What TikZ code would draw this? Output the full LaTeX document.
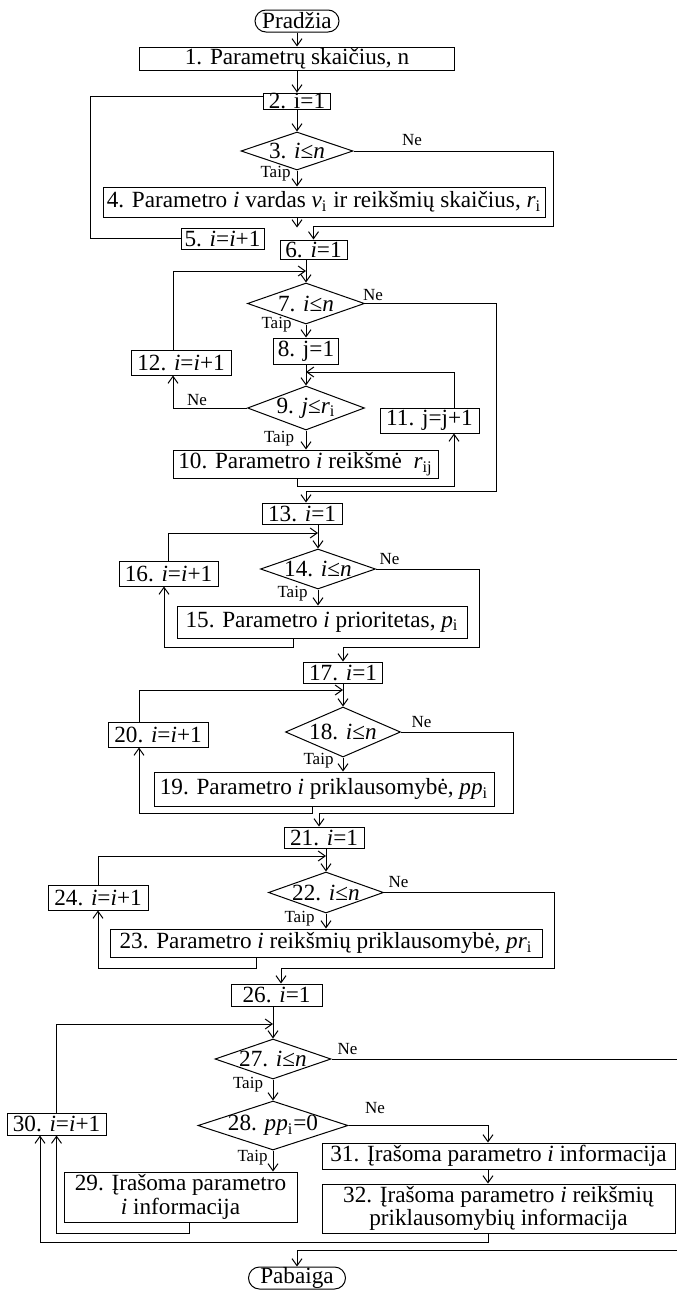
\documentclass[tikz,border=0pt]{standalone}
\usepackage{fontspec}
\setmainfont{Liberation Serif}
\usetikzlibrary{shapes.geometric,arrows.meta}

\tikzset{
  wh/.style 2 args={minimum width=#1*0.5pt, minimum height=#2*0.5pt},
  process/.style={draw, rectangle, inner sep=0pt, align=center},
  decision/.style={draw, diamond, inner sep=0pt},
  terminal/.style={draw, rectangle, rounded corners=5.5pt, inner sep=0pt},
  flow/.style={-{Straight Barb[length=3.5pt,width=5pt]}},
  lbl/.style={font=\fontsize{8.5}{9}\selectfont, inner sep=0pt}
}

\begin{document}
\begin{tikzpicture}[x=0.5pt, y=-0.5pt, line width=0.5pt,
                    font=\fontsize{11.6}{10}\selectfont]
  \useasboundingbox (0,0) rectangle (676,1290);

  % Parametru vardai ir reiksmiu skaicius
  \node[terminal, wh={84}{22}] (start) at (297,21) {Pradžia};
  \node[process, wh={315}{23}] (b1) at (297,58.5) {1. Parametrų skaičius, n};
  \node[process, wh={67}{16}] (b2) at (297,101) {2. i=1};
  \node[decision, wh={112}{38}, label=center:{3. \textit{i}≤\textit{n}}] (d3) at (297,151) {};
  \node[process, wh={442}{30}] (b4) at (324,202) {4. Parametro \textit{i} vardas \textit{v}\textsubscript{i} ir reikšmių skaičius, \textit{r}\textsubscript{i}};
  \node[process, wh={83}{21}] (b5) at (222.5,238.5) {5. \textit{i}=\textit{i}+1};
  \node[process, wh={67}{19}] (b6) at (313.5,249.5) {6. \textit{i}=1};
  \node[lbl] (ne3) at (412,140) {Ne};
  \node[lbl] (taip3) at (275.5,174) {Taip};

  \draw[flow] (start.south) -- (start.south |- b1.north);
  \draw[flow] (b1.south) -- (b2.north);
  \draw[flow] (b2.south) -- (d3.north);
  \draw[flow] (d3.south) -- (d3.south |- b4.north);
  \draw[flow] (d3.south |- b4.south) -- (d3.south |- b5.north);
  \draw (b5.west) -| (90,96) -- ([yshift=2.5pt]b2.west);
  \draw[flow] (d3.east) -| (553,226) -| (b6.north);

  % Parametru reiksmes
  \node[decision, wh={117}{41}, label=center:{7. \textit{i}≤\textit{n}}] (d7) at (306,303.5) {};
  \node[process, wh={65}{26}] (b8) at (306,351) {8. j=1};
  \node[decision, wh={117}{44}, label=center:{9. \textit{j}≤\textit{r}\textsubscript{i}}] (d9) at (306,408) {};
  \node[process, wh={265}{28}] (b10) at (305.5,464) {10. Parametro \textit{i} reikšmė\ \ \textit{r}\textsubscript{ij}};
  \node[process, wh={99}{25}] (b11) at (429.5,420.5) {11. j=j+1};
  \node[process, wh={100}{25}] (b12) at (181,362.5) {12. \textit{i}=\textit{i}+1};
  \node[lbl] (ne7) at (373,295) {Ne};
  \node[lbl] (taip7) at (276.5,324.5) {Taip};
  \node[lbl] (ne9) at (197,400) {Ne};
  \node[lbl] (taip9) at (279,438.5) {Taip};
  \coordinate (m7) at (306,271);
  \coordinate (m9) at (306,372);

  \draw[flow] (b6.south -| d7.north) -- (d7.north);
  \draw[flow] (d7.south) -- (b8.north);
  \draw[flow] (b8.south) -- (d9.north);
  \draw[flow] (d9.south) -- (d9.south |- b10.north);
  \draw[flow] ([xshift=-4.25pt]b10.south) -- ++(0,8) -| ([xshift=12.25pt]b11.south);
  \draw[flow] ([xshift=12.25pt]b11.north) |- (m9);
  \draw[flow] ([xshift=-4pt]b12.north) |- (m7);
  \draw[flow] (d9.west) -| ([xshift=-4pt]b12.south);

  % Prioritetai
  \node[process, wh={80}{21}] (b13) at (302,513.5) {13. \textit{i}=1};
  \node[decision, wh={115}{40}, label=center:{14. \textit{i}≤\textit{n}}] (d14) at (318,569) {};
  \node[process, wh={290}{32}] (b15) at (322,622) {15. Parametro \textit{i} prioritetas, \textit{p}\textsubscript{i}};
  \node[process, wh={99}{25}] (b16) at (168.5,573.5) {16. \textit{i}=\textit{i}+1};
  \node[lbl] (ne14) at (389.5,559) {Ne};
  \node[lbl] (taip14) at (292.5,594) {Taip};
  \coordinate (m14) at (318,533);

  \draw[flow] (d7.east) -| (496,491) -| (b13.north -| d7.south);
  \draw[flow] (b13.south -| d14.north) -- (d14.north);
  \draw[flow] (b16.north) |- (m14);
  \draw[flow] (d14.south) -- (d14.south |- b15.north);
  \draw[flow] ([xshift=-14.5pt]b15.south) -- ++(0,9) -| ([xshift=-2.25pt]b16.south);

  % Parametru priklausomybes
  \node[process, wh={79}{21}] (b17) at (343,672.5) {17. \textit{i}=1};
  \node[decision, wh={115}{50}, label=center:{18. \textit{i}≤\textit{n}}] (d18) at (343,732) {};
  \node[process, wh={340}{34}] (b19) at (324,789) {19. Parametro \textit{i} priklausomybė, \textit{pp}\textsubscript{i}};
  \node[process, wh={100}{25}] (b20) at (158,734.5) {20. \textit{i}=\textit{i}+1};
  \node[lbl] (ne18) at (421.5,722) {Ne};
  \node[lbl] (taip18) at (318.5,761) {Taip};
  \coordinate (m18) at (343,690);

  \draw[flow] (d14.east) -| (479,647) -| (b17.north);
  \draw[flow] (b17.south) -- (d18.north);
  \draw[flow] ([xshift=-9.5pt]b20.north) |- (m18);
  \draw[flow] (d18.south) -- (d18.south |- b19.north);
  \draw[flow] ([xshift=-6pt]b19.south) -- ++(0,7) -| ([xshift=-9.5pt]b20.south);

  % Reiksmiu priklausomybes
  \node[process, wh={80}{21}] (b21) at (324,837.5) {21. \textit{i}=1};
  \node[decision, wh={115}{41}, label=center:{22. \textit{i}≤\textit{n}}] (d22) at (326,892.5) {};
  \node[process, wh={432}{28}] (b23) at (326,943) {23. Parametro \textit{i} reikšmių priklausomybė, \textit{pr}\textsubscript{i}};
  \node[process, wh={100}{25}] (b24) at (98,897.5) {24. \textit{i}=\textit{i}+1};
  \node[lbl] (ne22) at (398.5,882.5) {Ne};
  \node[lbl] (taip22) at (299.5,918.5) {Taip};
  \coordinate (m22) at (326,856);

  \draw[flow] (d18.east) -| (513,813) -| ([xshift=-2.5pt]b21.north);
  \draw[flow] (b21.south -| d22.north) -- (d22.north);
  \draw[flow] (b24.north) |- (m22);
  \draw[flow] (d22.south) -- (b23.north);
  \draw[flow] ([xshift=-35pt]b23.south) -- ++(0,11) -| (b24.south);

  % Irasymas
  \node[process, wh={91}{22}] (b26) at (276.5,995) {26. \textit{i}=1};
  \node[decision, wh={116}{40}, label=center:{27. \textit{i}≤\textit{n}}] (d27) at (273,1059) {};
  \node[decision, wh={150}{49}, label=center:{28. \textit{pp}\textsubscript{i}=0}] (d28) at (273,1125.5) {};
  \node[process, wh={233}{50}] (b29) at (180.5,1197) {29. Įrašoma parametro\\\textit{i} informacija};
  \node[process, wh={99}{22}] (b30) at (56.5,1124) {30. \textit{i}=\textit{i}+1};
  \node[process, wh={353}{26}] (b31) at (498.5,1156) {31. Įrašoma parametro \textit{i} informacija};
  \node[process, wh={353}{49}] (b32) at (498.5,1208.5) {32. Įrašoma parametro \textit{i} reikšmių\\priklausomybių informacija};
  \node[terminal, wh={97}{22}] (end) at (297,1278) {Pabaiga};
  \node[lbl] (ne27) at (347.5,1049) {Ne};
  \node[lbl] (taip27) at (248,1085) {Taip};
  \node[lbl] (ne28) at (375,1108.5) {Ne};
  \node[lbl] (taip28) at (252.5,1157.5) {Taip};
  \coordinate (m27) at (273,1024);

  \draw[flow] (d22.east) -| (554,968) -| ([xshift=2.25pt]b26.north);
  \draw[flow] (b26.south -| d27.north) -- (d27.north);
  \draw[flow] (b30.north) |- (m27);
  \draw[flow] (d27.south) -- (d28.north);
  \draw[flow] (d28.south) -- (d28.south |- b29.north);
  \draw[flow] (d28.east) -| ([xshift=-5.25pt]b31.north);
  \draw[flow] ([xshift=-5.25pt]b31.south) -- ([xshift=-5.25pt]b32.north);
  \draw[flow] ([xshift=4.25pt]b29.south) -- ++(0,11) -| (b30.south);
  \draw[flow] ([xshift=-5.25pt]b32.south) -- ++(0,9) -| ([xshift=-8.25pt]b30.south);
  \draw[flow] (d27.east) -| (690,1250) -| (end.north);
\end{tikzpicture}
\end{document}
